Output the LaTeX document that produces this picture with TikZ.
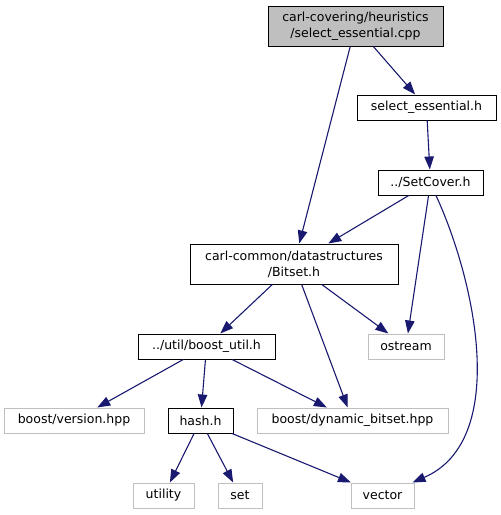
\documentclass[tikz,border=0pt]{standalone}
\usepackage{fontspec}
\setmainfont{DejaVu Sans}
\usetikzlibrary{arrows.meta}
\definecolor{edgeblue}{HTML}{191970}
\definecolor{grey75}{HTML}{BFBFBF}
\begin{document}
\begin{tikzpicture}[x=1pt,y=-1pt,
  file/.style={draw=black, line width=1pt, inner sep=0pt, minimum height=25pt,
    align=center, font=\fontsize{12.5}{16}\selectfont},
  extfile/.style={file, draw=grey75},
  dep/.style={draw=edgeblue, line width=1.1pt,
    -{Triangle[length=13pt,width=9.5pt]}}
]
\useasboundingbox (0,0) rectangle (501,515);

% include graph nodes
\node[file, fill=grey75, minimum width=175pt, minimum height=40pt] (root) at (355.5,26)
  {carl-covering/heuristics\\/select\_essential.cpp};
\node[file, minimum width=139pt] (sel) at (426.5,107.5) {select\_essential.h};
\node[file, minimum width=105pt] (sc) at (430.5,182.5) {../SetCover.h};
\node[file, minimum width=208pt, minimum height=40pt] (bitset) at (294,264)
  {carl-common/datastructures\\/Bitset.h};
\node[extfile, minimum width=76pt] (ostream) at (406,346.5) {ostream};
\node[file, minimum width=137pt] (bu) at (206.5,346.5) {../util/boost\_util.h};
\node[extfile, minimum width=140pt] (ver) at (74,420.5) {boost/version.hpp};
\node[file, minimum width=65pt] (hash) at (200.5,420.5) {hash.h};
\node[extfile, minimum width=191pt] (dyn) at (352.5,420.5) {boost/dynamic\_bitset.hpp};
\node[extfile, minimum width=61pt] (util) at (163.5,495.5) {utility};
\node[extfile, minimum width=44pt] (set) at (240,495.5) {set};
\node[extfile, minimum width=63pt] (vec) at (382.5,495.5) {vector};

% include edges
\draw[dep] (root) -- (sel);
\draw[dep] (root) -- (bitset);
\draw[dep] (sel) -- (sc);
\draw[dep] (sc) -- (bitset);
\draw[dep] (sc) -- (ostream);
\draw[dep] ([xshift=5.5pt]sc.south) .. controls (475,280) and (510,440) .. ([xshift=-2pt]vec.north east);
\draw[dep] (bitset) -- (bu);
\draw[dep] (bitset) -- (ostream);
\draw[dep] (bitset) -- (dyn);
\draw[dep] (bu) -- (ver);
\draw[dep] (bu) -- (hash);
\draw[dep] (bu) -- (dyn);
\draw[dep] (hash) -- (util);
\draw[dep] (hash) -- (set);
\draw[dep] (hash) -- (vec);
\end{tikzpicture}
\end{document}
